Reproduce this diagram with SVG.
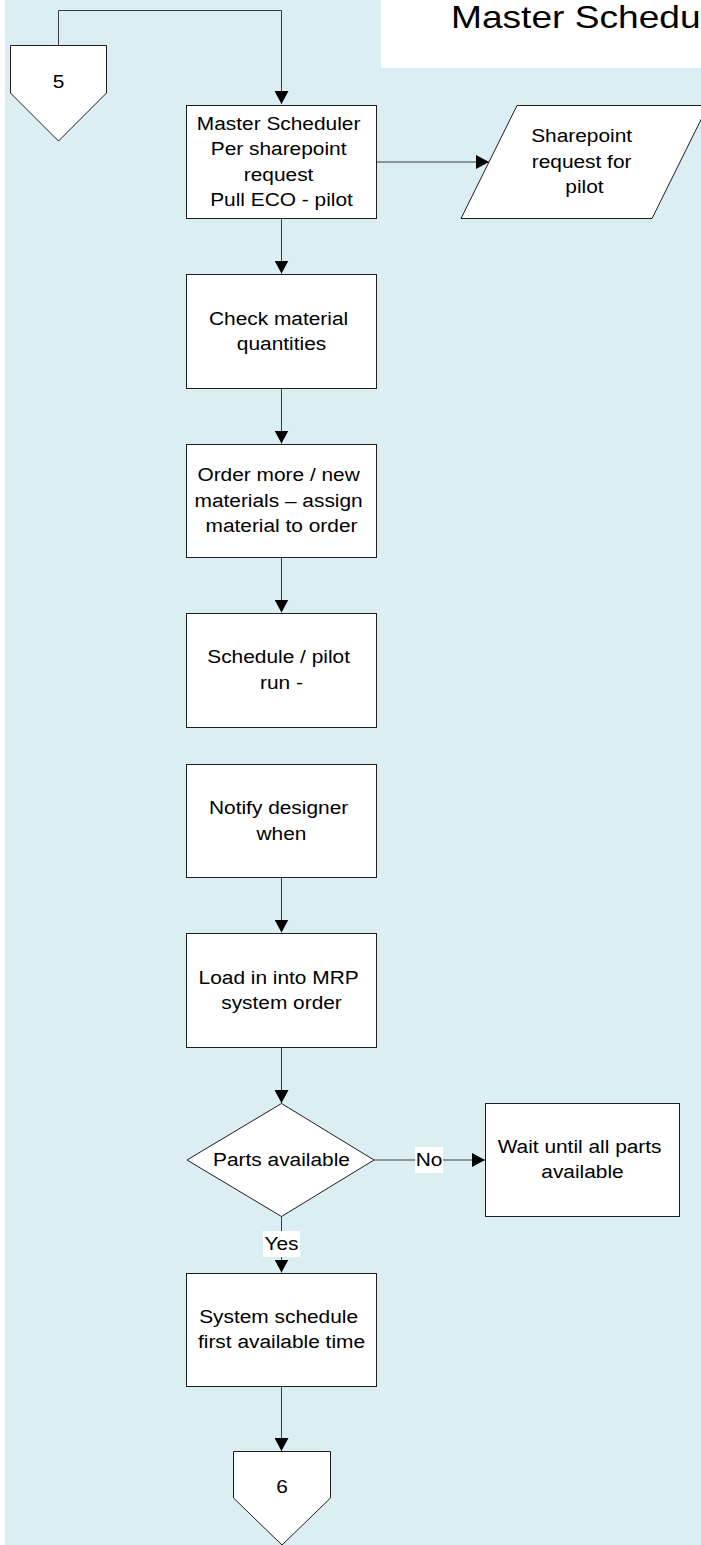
<svg xmlns="http://www.w3.org/2000/svg" width="701" height="1545" viewBox="0 0 701 1545">
  <style>
    .shape { fill: #ffffff; stroke: #1e1e1e; stroke-width: 1; }
    .link { fill: none; stroke: #3c3c3c; stroke-width: 1; }
    .lbl { font-family: "Liberation Sans", Arial, sans-serif; font-size: 18px; fill: #000000; text-anchor: middle; }
    .title { font-family: "Liberation Sans", Arial, sans-serif; font-size: 32px; fill: #000000; }
    .tag { fill: #ffffff; stroke: none; }
  </style>
  <defs>
    <marker id="arrow" markerUnits="userSpaceOnUse" markerWidth="14" markerHeight="14" refX="13" refY="7" orient="auto">
      <path d="M0,0 L13,7 L0,14 Z" fill="#000000"/>
    </marker>
  </defs>

  <!-- swimlane background -->
  <rect x="5" y="0" width="696" height="1545" fill="#DAEEF3"/>

  <!-- heading -->
  <g id="title">
    <rect x="381" y="0" width="320" height="68" fill="#ffffff"/>
    <text class="title" transform="translate(451 28) scale(1.16 1)" x="0" y="0">Master Schedu</text>
  </g>

  <!-- connectors -->
  <g id="connectors">
    <path class="link" d="M58.5,45.5 V10.5 H281.5 V104" marker-end="url(#arrow)"/>
    <path class="link" d="M376.5,162 H489" marker-end="url(#arrow)"/>
    <path class="link" d="M281.5,218.5 V273.5" marker-end="url(#arrow)"/>
    <path class="link" d="M281.5,388.5 V443.5" marker-end="url(#arrow)"/>
    <path class="link" d="M281.5,557.5 V612.5" marker-end="url(#arrow)"/>
    <path class="link" d="M281.5,877.5 V932.5" marker-end="url(#arrow)"/>
    <path class="link" d="M281.5,1047.5 V1103" marker-end="url(#arrow)"/>
    <path class="link" d="M374,1160 H485" marker-end="url(#arrow)"/>
    <path class="link" d="M281.5,1216.5 V1272.5" marker-end="url(#arrow)"/>
    <path class="link" d="M281.5,1386.5 V1451" marker-end="url(#arrow)"/>
    <!-- branch labels -->
    <rect class="tag" x="415" y="1147" width="28" height="26"/>
    <text class="lbl" transform="translate(429 0) scale(1.16 1)" x="0" y="1166.5">No</text>
    <rect class="tag" x="263" y="1231" width="37" height="26"/>
    <text class="lbl" transform="translate(281.5 0) scale(1.16 1)" x="0" y="1250.5">Yes</text>
  </g>

  <!-- off-page connector 5 -->
  <g id="n-off5">
    <polygon class="shape" points="10.5,45.5 106.5,45.5 106.5,93 58.5,141 10.5,93"/>
    <text class="lbl" transform="translate(58.5 0) scale(1.16 1)" x="0" y="88.5">5</text>
  </g>

  <g id="n-master">
    <rect class="shape" x="186.5" y="105.5" width="190" height="113"/>
    <text class="lbl" transform="translate(281.5 0) scale(1.16 1)">
      <tspan x="0" y="129.75">Master Scheduler</tspan>
      <tspan x="0" y="155.25">Per sharepoint</tspan>
      <tspan x="0" y="180.75">request</tspan>
      <tspan x="0" y="206.25">Pull ECO - pilot</tspan>
    </text>
  </g>

  <g id="n-sharepoint">
    <polygon class="shape" points="517,105.5 708,105.5 652,218.5 461,218.5"/>
    <text class="lbl" transform="translate(584.5 0) scale(1.16 1)">
      <tspan x="0" y="142.5">Sharepoint</tspan>
      <tspan x="0" y="168">request for</tspan>
      <tspan x="0" y="193.5">pilot</tspan>
    </text>
  </g>

  <g id="n-check">
    <rect class="shape" x="186.5" y="274.5" width="190" height="114"/>
    <text class="lbl" transform="translate(281.5 0) scale(1.16 1)">
      <tspan x="0" y="324.75">Check material</tspan>
      <tspan x="0" y="350.25">quantities</tspan>
    </text>
  </g>

  <g id="n-order">
    <rect class="shape" x="186.5" y="444.5" width="190" height="113"/>
    <text class="lbl" transform="translate(281.5 0) scale(1.16 1)">
      <tspan x="0" y="481.5">Order more / new</tspan>
      <tspan x="0" y="507">materials – assign</tspan>
      <tspan x="0" y="532.5">material to order</tspan>
    </text>
  </g>

  <g id="n-schedule">
    <rect class="shape" x="186.5" y="613.5" width="190" height="114"/>
    <text class="lbl" transform="translate(281.5 0) scale(1.16 1)">
      <tspan x="0" y="663.5">Schedule / pilot</tspan>
      <tspan x="0" y="689">run -</tspan>
    </text>
  </g>

  <g id="n-notify">
    <rect class="shape" x="186.5" y="764.5" width="190" height="113"/>
    <text class="lbl" transform="translate(281.5 0) scale(1.16 1)">
      <tspan x="0" y="814.5">Notify designer</tspan>
      <tspan x="0" y="840">when</tspan>
    </text>
  </g>

  <g id="n-load">
    <rect class="shape" x="186.5" y="933.5" width="190" height="114"/>
    <text class="lbl" transform="translate(281.5 0) scale(1.16 1)">
      <tspan x="0" y="984">Load in into MRP</tspan>
      <tspan x="0" y="1009.5">system order</tspan>
    </text>
  </g>

  <g id="n-parts">
    <polygon class="shape" points="281.5,1103.5 374,1160 281.5,1216.5 187,1160"/>
    <text class="lbl" transform="translate(281.5 0) scale(1.16 1)" x="0" y="1166.5">Parts available</text>
  </g>

  <g id="n-wait">
    <rect class="shape" x="485.5" y="1103.5" width="194" height="113"/>
    <text class="lbl" transform="translate(582.5 0) scale(1.16 1)">
      <tspan x="0" y="1153">Wait until all parts</tspan>
      <tspan x="0" y="1178.5">available</tspan>
    </text>
  </g>

  <g id="n-system">
    <rect class="shape" x="186.5" y="1273.5" width="190" height="113"/>
    <text class="lbl" transform="translate(281.5 0) scale(1.16 1)">
      <tspan x="0" y="1323">System schedule</tspan>
      <tspan x="0" y="1348.5">first available time</tspan>
    </text>
  </g>

  <!-- off-page connector 6 -->
  <g id="n-off6">
    <polygon class="shape" points="233.5,1451.5 330.5,1451.5 330.5,1498 282,1545 233.5,1498"/>
    <text class="lbl" transform="translate(282 0) scale(1.16 1)" x="0" y="1493">6</text>
  </g>
</svg>
